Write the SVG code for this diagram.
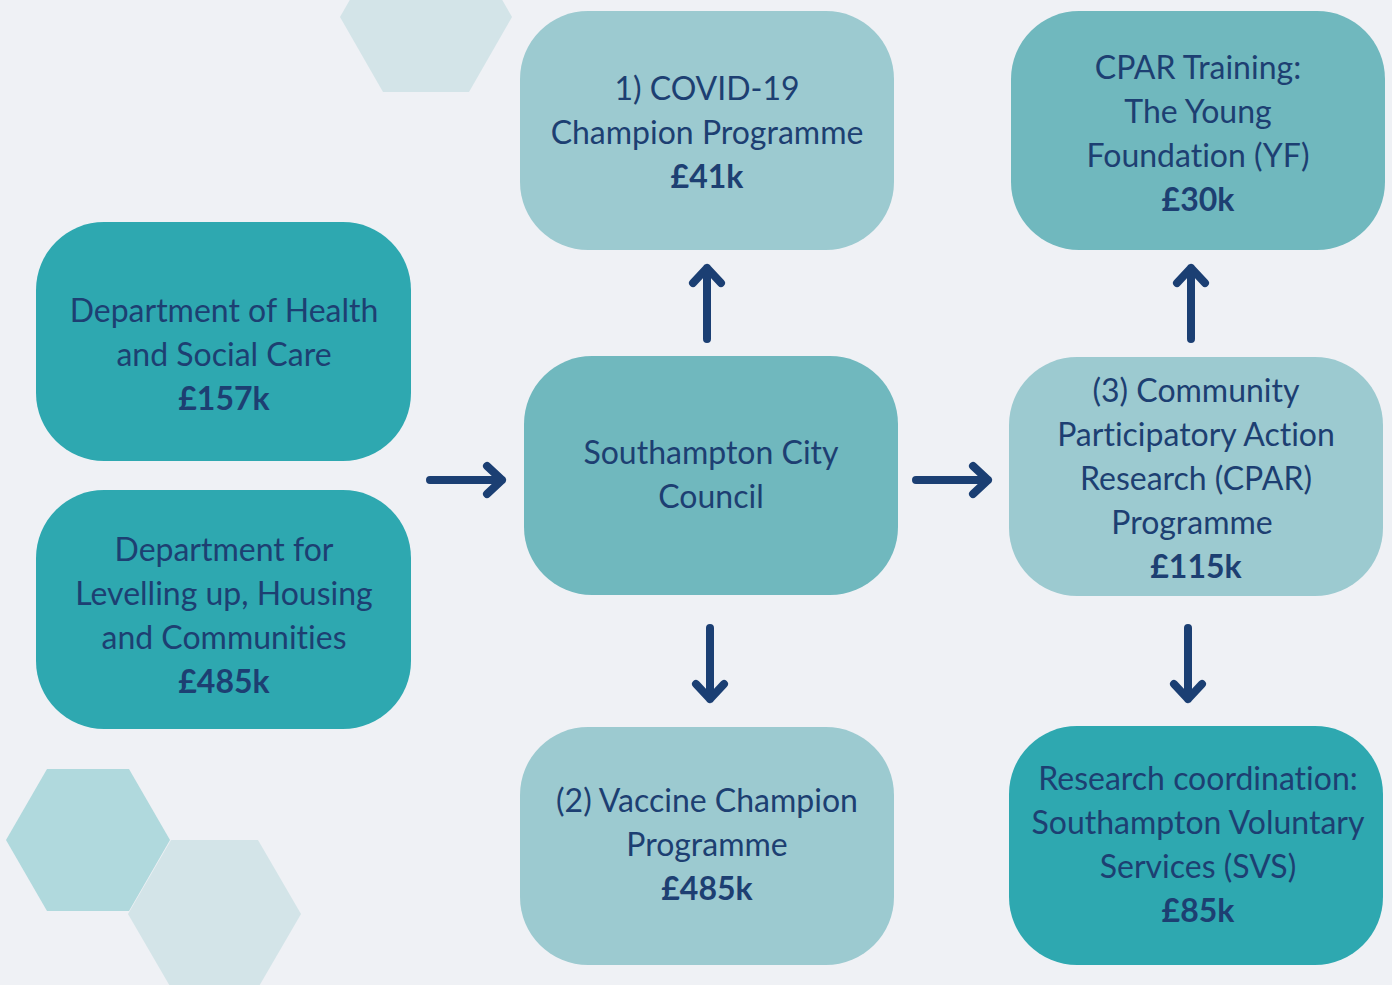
<svg xmlns="http://www.w3.org/2000/svg" width="1392" height="985" viewBox="0 0 1392 985">
  <style>
    .box text { font-family: Lato, "Noto Sans", "Liberation Sans", sans-serif; font-size: 32px; fill: #1d3f72; text-anchor: middle; font-variant-ligatures: none; }
    .box text.amt { font-weight: bold; }
    .dark { fill: #2ea8b0; }
    .mid { fill: #70b8be; }
    .light { fill: #9ccad0; }
    .conn path { fill: none; stroke: #1b3f73; stroke-width: 8; stroke-linecap: round; stroke-linejoin: round; }
  </style>
  <rect width="1392" height="985" fill="#eff1f5"/>

  <!-- background hexagons -->
  <g id="hexes">
    <polygon points="340,17 383,-58 469,-58 512,17 469,92 383,92" fill="#d3e4e8"/>
    <polygon points="6,840 47,769 129,769 170,840 129,911 47,911" fill="#b0d9dd"/>
    <polygon points="128,914 171,840 258,840 301,914 258,988 171,988" fill="#d3e4e8"/>
  </g>

  <g id="dhsc" class="box">
    <rect class="dark" x="36" y="222" width="375" height="239" rx="68"/>
    <text x="224" y="322">Department of Health</text>
    <text x="224" y="366">and Social Care</text>
    <text class="amt" x="224" y="410">£157k</text>
  </g>

  <g id="dluhc" class="box">
    <rect class="dark" x="36" y="490" width="375" height="239" rx="68"/>
    <text x="224" y="561">Department for</text>
    <text x="224" y="605">Levelling up, Housing</text>
    <text x="224" y="649">and Communities</text>
    <text class="amt" x="224" y="693">£485k</text>
  </g>

  <g id="scc" class="box">
    <rect class="mid" x="524" y="356" width="374" height="239" rx="68"/>
    <text x="711" y="464">Southampton City</text>
    <text x="711" y="508">Council</text>
  </g>

  <g id="covid" class="box">
    <rect class="light" x="520" y="11" width="374" height="239" rx="68"/>
    <text x="707" y="100">1) COVID-19</text>
    <text x="707" y="144">Champion Programme</text>
    <text class="amt" x="707" y="188">£41k</text>
  </g>

  <g id="vaccine" class="box">
    <rect class="light" x="520" y="727" width="374" height="238" rx="68"/>
    <text x="707" y="812">(2) Vaccine Champion</text>
    <text x="707" y="856">Programme</text>
    <text class="amt" x="707" y="900">£485k</text>
  </g>

  <g id="cpar-training" class="box">
    <rect class="mid" x="1011" y="11" width="374" height="239" rx="68"/>
    <text x="1198" y="79">CPAR Training:</text>
    <text x="1198" y="123">The Young</text>
    <text x="1198" y="167">Foundation (YF)</text>
    <text class="amt" x="1198" y="211">£30k</text>
  </g>

  <g id="cpar" class="box">
    <rect class="light" x="1009" y="357" width="374" height="239" rx="68"/>
    <text x="1196" y="402">(3) Community</text>
    <text x="1196" y="446">Participatory Action</text>
    <text x="1196" y="490">Research (CPAR)</text>
    <text x="1192" y="534">Programme</text>
    <text class="amt" x="1196" y="578">£115k</text>
  </g>

  <g id="svs" class="box">
    <rect class="dark" x="1009" y="726" width="374" height="239" rx="68"/>
    <text x="1198" y="790">Research coordination:</text>
    <text x="1198" y="834">Southampton Voluntary</text>
    <text x="1198" y="878">Services (SVS)</text>
    <text class="amt" x="1198" y="922">£85k</text>
  </g>

  <!-- connectors -->
  <g id="connectors" class="conn">
    <path d="M430,480 H502 M487,466 L502,480 L487,494"/>
    <path d="M916,480 H988 M973,466 L988,480 L973,494"/>
    <path d="M707,339 V268 M693,283 L707,268 L721,283"/>
    <path d="M1191,339 V268 M1177,283 L1191,268 L1205,283"/>
    <path d="M710,628 V699 M696,684 L710,699 L724,684"/>
    <path d="M1188,628 V699 M1174,684 L1188,699 L1202,684"/>
  </g>
</svg>
